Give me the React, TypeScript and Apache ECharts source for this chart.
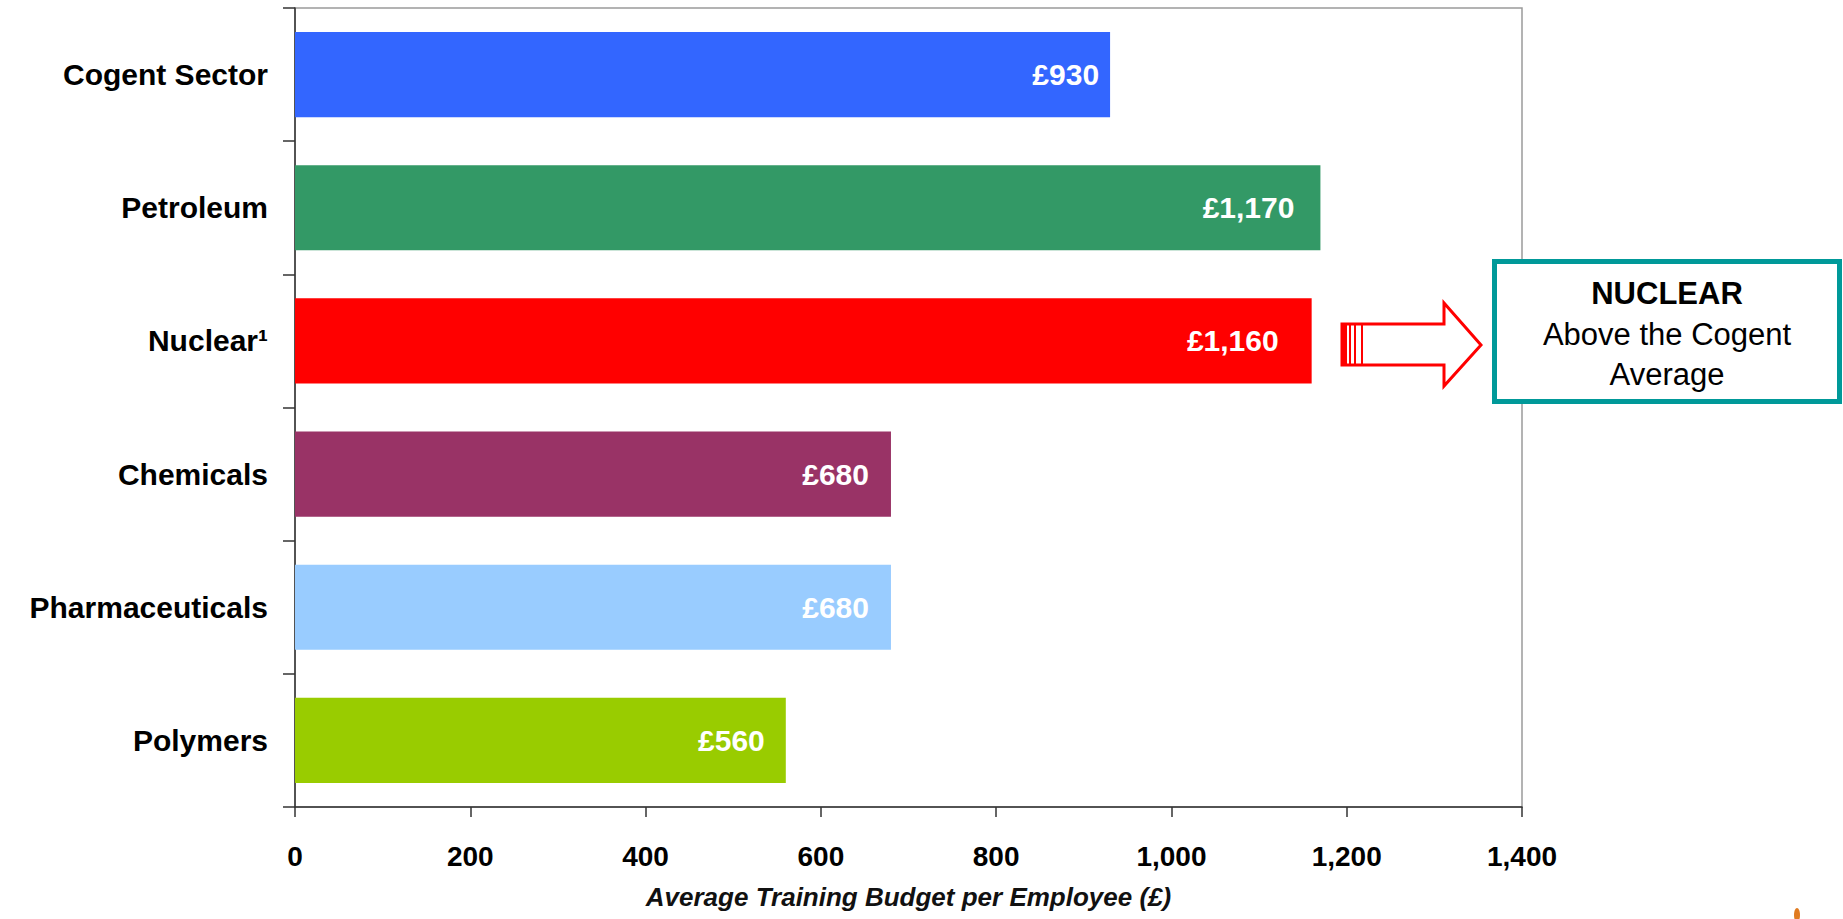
import React, { useEffect, useRef } from "react";
import * as echarts from "echarts";

const categories = ["Cogent Sector", "Petroleum", "Nuclear¹", "Chemicals", "Pharmaceuticals", "Polymers"];
const values = [930, 1170, 1160, 680, 680, 560];
const barColors = ["#3366FF", "#339966", "#FF0000", "#993366", "#99CCFF", "#99CC00"];
const xTicks = { min: 0, max: 1400, interval: 200 };
const axisTitle = "Average Training Budget per Employee (£)";
const noteTitle = "NUCLEAR";
const noteLines = ["Above the Cogent", "Average"];

const FONT = "'Liberation Sans', Arial, Helvetica, sans-serif";
// inner padding of each value label from its bar end (style only)
const LABEL_INSET = [11, 26, 33, 22, 22, 21];

function fmt(v: number): string {
  return v.toLocaleString("en-GB");
}

export default function App() {
  const ref = useRef<HTMLDivElement>(null);
  useEffect(() => {
    if (!ref.current) return;
    const chart = echarts.init(ref.current, undefined, { renderer: "svg" });
    const red = "#FF0000";
    chart.setOption({
      animation: false,
      backgroundColor: "#FFFFFF",
      grid: {
        left: 295,
        right: 321,
        top: 8,
        bottom: 112,
        show: true,
        borderColor: "#9a9a9a",
        borderWidth: 1.5,
        backgroundColor: "transparent",
      },
      xAxis: {
        type: "value",
        min: xTicks.min,
        max: xTicks.max,
        interval: xTicks.interval,
        splitLine: { show: false },
        axisLine: { show: true, lineStyle: { color: "#333", width: 1.5 } },
        axisTick: { show: true, length: 10, lineStyle: { color: "#333", width: 1.5 } },
        axisLabel: {
          color: "#000",
          fontSize: 28,
          fontWeight: "bold",
          fontFamily: FONT,
          margin: 35,
          formatter: (v: number) => fmt(v),
        },
        name: axisTitle,
        nameLocation: "middle",
        nameGap: 77,
        nameTextStyle: {
          color: "#111",
          fontSize: 26,
          fontWeight: "bold",
          fontStyle: "italic",
          fontFamily: FONT,
        },
      },
      yAxis: {
        type: "category",
        inverse: true,
        data: categories,
        axisLine: { show: true, lineStyle: { color: "#333", width: 1.5 } },
        axisTick: { show: true, length: 12, lineStyle: { color: "#333", width: 1.5 } },
        axisLabel: {
          color: "#000",
          fontSize: 30,
          fontWeight: "bold",
          fontFamily: FONT,
          margin: 27,
        },
      },
      series: [
        {
          type: "bar",
          barCategoryGap: "36%",
          data: values.map((v, i) => ({
            value: v,
            itemStyle: { color: barColors[i] },
            label: { distance: LABEL_INSET[i] },
          })),
          label: {
            show: true,
            position: "insideRight",
            distance: 12,
            color: "#FFFFFF",
            fontSize: 30,
            fontWeight: "bold",
            fontFamily: FONT,
            formatter: (p: any) => "£" + fmt(p.value),
          },
        },
      ],
      graphic: [
        // striped block arrow
        {
          type: "polygon",
          shape: {
            points: [
              [1342, 324],
              [1444, 324],
              [1444, 303],
              [1481, 345],
              [1444, 386],
              [1444, 365],
              [1342, 365],
            ],
          },
          style: { fill: "#FFFFFF", stroke: red, lineWidth: 3 },
        },
        { type: "rect", shape: { x: 1342, y: 324, width: 5, height: 41 }, style: { fill: red } },
        { type: "line", shape: { x1: 1350, y1: 324, x2: 1350, y2: 365 }, style: { stroke: red, lineWidth: 2 } },
        { type: "line", shape: { x1: 1355, y1: 324, x2: 1355, y2: 365 }, style: { stroke: red, lineWidth: 2 } },
        { type: "line", shape: { x1: 1362, y1: 324, x2: 1362, y2: 365 }, style: { stroke: red, lineWidth: 2 } },
        // note box
        {
          type: "rect",
          shape: { x: 1494.5, y: 261.5, width: 345, height: 140 },
          style: { fill: "#FFFFFF", stroke: "#009999", lineWidth: 5 },
          z: 10,
        },
        {
          type: "text",
          x: 1667,
          y: 293,
          z: 11,
          style: {
            text: noteTitle,
            fill: "#000",
            fontSize: 31,
            fontWeight: "bold",
            fontFamily: FONT,
            align: "center",
            verticalAlign: "middle",
          },
        },
        ...noteLines.map((t, i) => ({
          type: "text",
          x: 1667,
          y: 334 + i * 40,
          z: 11,
          style: {
            text: t,
            fill: "#000",
            fontSize: 31,
            fontFamily: FONT,
            align: "center",
            verticalAlign: "middle",
          },
        })),
        // clipped logo fragment at bottom-right
        {
          type: "ellipse",
          shape: { cx: 1797, cy: 915, rx: 3, ry: 7 },
          style: { fill: "#E07B20" },
        },
      ],
    });
    return () => chart.dispose();
  }, []);
  return (
    <div
      ref={ref}
      style={{ position: "absolute", left: 0, top: 0, width: 1843, height: 919 }}
    />
  );
}
